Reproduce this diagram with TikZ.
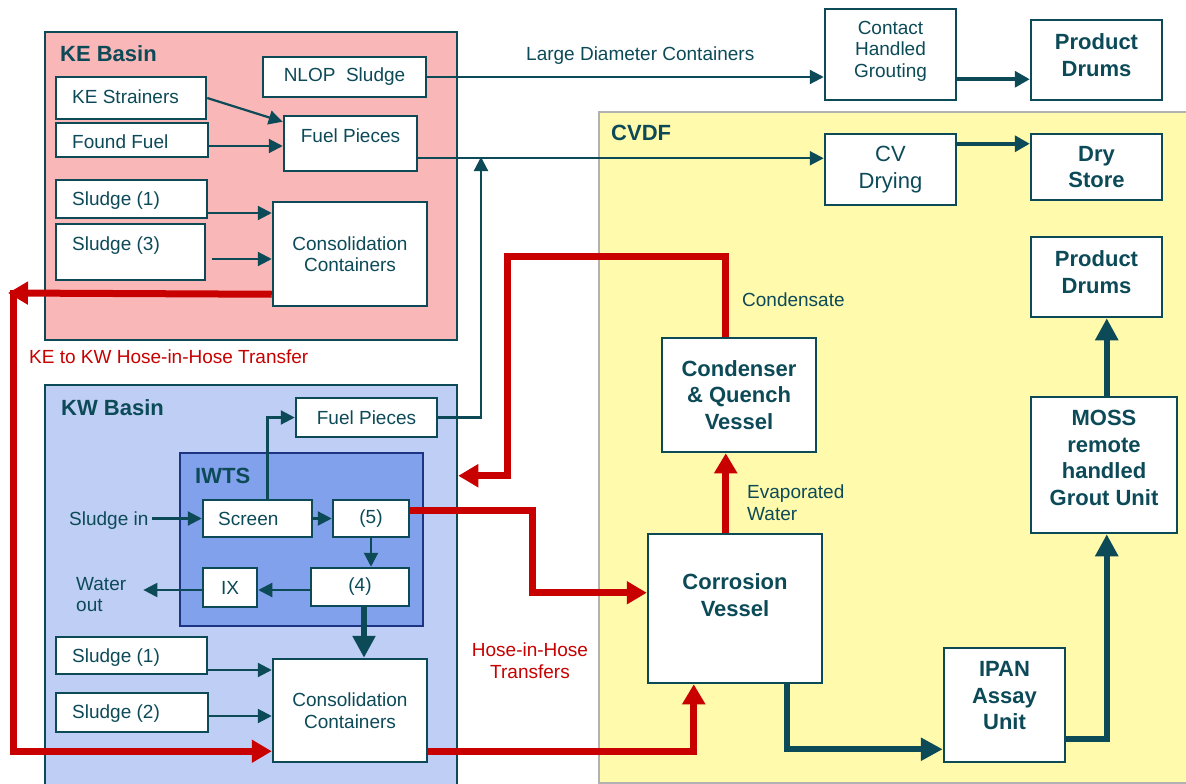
\documentclass[tikz,border=0pt]{standalone}
\usepackage{fontspec}
\setmainfont{Liberation Sans}
\usetikzlibrary{arrows.meta,calc}
\definecolor{teal0}{RGB}{12,74,88}
\definecolor{red0}{RGB}{200,0,0}
\definecolor{pink0}{RGB}{250,183,183}
\definecolor{kwblue}{RGB}{190,206,245}
\definecolor{iwtsblue}{RGB}{130,161,236}
\definecolor{navy0}{RGB}{28,52,130}
\definecolor{yel0}{RGB}{255,250,172}
\definecolor{gray0}{RGB}{178,178,178}
\newcommand{\regf}{\fontsize{19}{21.5}\selectfont}
\newcommand{\bigregf}{\fontsize{22}{27}\selectfont}
\newcommand{\boldf}{\fontsize{22}{26.5}\selectfont\bfseries}
\newcommand{\mybox}[7][]{\node[box,#1,minimum width={#5-#3},minimum height={#6-#4}] (#2) at ({(#3+#5)/2},{(#4+#6)/2}) {#7};}
\begin{document}
\begin{tikzpicture}[x=1pt,y=-1pt,
  box/.style={draw=teal0, line width=2.5pt, fill=white, inner sep=0pt, text=teal0, font=\regf, align=center},
  basin/.style={draw=teal0, line width=2.5pt},
  bbox/.style={font=\boldf},
  txt/.style={inner sep=0pt, text=teal0, font=\regf, align=left},
  ctxt/.style={inner sep=0pt, text=teal0, font=\regf, align=center},
  btxt/.style={inner sep=0pt, text=teal0, font=\boldf, align=center},
  rtxt/.style={inner sep=0pt, text=red0, font=\regf, align=center},
  thinar/.style={draw=teal0, line width=2.2pt, -{Triangle[length=14pt,width=14pt]}},
  medar/.style={draw=teal0, line width=3.5pt, -{Triangle[length=15pt,width=16pt]}},
  thkar/.style={draw=teal0, line width=6pt, -{Triangle[length=22pt,width=22pt]}},
  redar/.style={draw=red0, line width=7pt, -{Triangle[length=20pt,width=22pt]}}]
\useasboundingbox (0,0) rectangle (1186,784);
\fill[white] (0,0) rectangle (1186,784);

% containers
\mybox[basin, fill=pink0]{ke}{45}{32}{457}{340}{}
\mybox[basin, fill=kwblue]{kw}{45}{385}{457}{792}{}
\mybox[basin, fill=iwtsblue, draw=navy0]{iwts}{180}{453}{423}{626}{}
\mybox[basin, fill=yel0, draw=gray0, line width=2pt]{cvdf}{599}{112}{1194}{783}{}

\node[btxt, anchor=base west] (keL) at (60,62) {KE Basin};
\node[btxt, anchor=base west] (kwL) at (61,415) {KW Basin};
\node[btxt, anchor=base west] (iwtsL) at (195,483) {IWTS};
\node[btxt, anchor=base west] (cvdfL) at (611,140) {CVDF};

% KE basin boxes
\mybox{nlop}{263}{57}{426}{97}{NLOP\ \ Sludge}
\mybox{kestr}{56}{77}{206}{119}{}
\mybox{found}{56}{123}{208}{157}{}
\mybox{fpke}{284}{116}{417}{171}{}
\mybox{s1ke}{56}{180}{207}{218}{}
\mybox{s3ke}{56}{224}{205}{280}{}
\mybox{ccke}{273}{202}{427}{306}{Consolidation\\Containers}
\node[txt, anchor=base west] (kestrT) at (72,103) {KE Strainers};
\node[txt, anchor=base west] (foundT) at (72,148) {Found Fuel};
\node[txt, anchor=base] (fpkeT) at (350.5,142) {Fuel Pieces};
\node[txt, anchor=base west] (s1keT) at (72,205) {Sludge (1)};
\node[txt, anchor=base west] (s3keT) at (72,250) {Sludge (3)};

% KW basin boxes
\mybox{fpkw}{296}{398}{437}{437}{Fuel Pieces}
\mybox{screen}{203}{500}{312}{537}{}
\node[txt, anchor=base west] (screenT) at (218,525) {Screen};
\mybox{five}{333}{500}{409}{537}{(5)}
\mybox{ix}{203}{568}{257}{607}{IX}
\mybox{four}{311}{568}{409}{606}{(4)}
\mybox{s1kw}{56}{637}{207}{674}{}
\mybox{s2kw}{56}{693}{208}{732}{}
\node[txt, anchor=base west] (s1kwT) at (72,662) {Sludge (1)};
\node[txt, anchor=base west] (s2kwT) at (72,718) {Sludge (2)};
\mybox{cckw}{273}{659}{427}{762}{Consolidation\\Containers}
\node[txt, anchor=base west] (sin) at (69,525) {Sludge in};
\node[txt, anchor=north west] (wout) at (76,577) {Water\\out};

% right side boxes
\mybox{chg}{825}{9}{956}{100}{}
\node[ctxt] (chgT) at (890.5,51) {Contact\\Handled\\Grouting};
\mybox{pd1}{1031}{20}{1162}{100}{}
\node[btxt] (pd1T) at (1096.5,55) {Product\\Drums};
\mybox[font=\bigregf]{cvd}{825}{134}{956}{205}{CV\\Drying}
\mybox[bbox]{ds}{1031}{134}{1162}{200}{Dry\\Store}
\mybox{pd2}{1031}{237}{1162}{317}{}
\node[btxt] (pd2T) at (1096.5,272) {Product\\Drums};
\mybox[bbox]{cq}{662}{338}{816}{452}{Condenser\\\&\ Quench\\Vessel}
\mybox{moss}{1031}{397}{1177}{533}{}
\node[btxt] (mossT) at (1104,458) {MOSS\\remote\\handled\\Grout Unit};
\mybox{cv}{648}{534}{822}{683}{}
\node[btxt] (cvT) at (735,595) {Corrosion\\Vessel};
\mybox{ipan}{944}{648}{1065}{762}{}
\node[btxt] (ipanT) at (1004.5,696) {IPAN\\Assay\\Unit};

% labels
\node[txt, anchor=base west] (ldc) at (526,60) {Large Diameter Containers};
\node[txt, anchor=base west] (cond) at (742,306) {Condensate};
\node[txt, anchor=north west] (evap) at (747,485) {Evaporated\\Water};
\node[rtxt, anchor=base west] (ke2kw) at (29,363) {KE to KW Hose-in-Hose Transfer};
\node[rtxt, anchor=north] (hih) at (530,643) {Hose-in-Hose\\Transfers};

% coordinates
\coordinate (ff) at ($(found.east)+(0,6)$);
\coordinate (fpo) at ($(fpke.south east)+(0,-14)$);
\coordinate (jn) at (481,157);
\coordinate (s1o) at ($(s1ke.east)+(0,14)$);
\coordinate (s3o) at ($(s3ke.east)+(6,7)$);
\coordinate (kel) at (8,293);
\coordinate (keo) at ($(ccke.south west)+(0,-13)$);
\coordinate (kwin) at ($(cckw.south west)+(0,-12)$);
\coordinate (f4) at ($(four.south)+(4,0)$);
\coordinate (w1o) at ($(s1kw.east)+(0,14.5)$);
\coordinate (w2o) at ($(s2kw.east)+(0,3.5)$);
\coordinate (fv) at ($(five.east)+(0,-8.5)$);
\coordinate (cvin) at ($(cv.north west)+(0,60)$);
\coordinate (kwout) at ($(cckw.south east)+(0,-12)$);
\coordinate (cvb) at ($(cv.south west)+(47,0)$);
\coordinate (cvt) at ($(cv.north west)+(79,0)$);
\coordinate (cqt) at (cvt |- cq.north);
\coordinate (kwr) at ($(kw.north east)+(0,92)$);
\coordinate (cvo) at ($(cv.south west)+(140,0)$);
\coordinate (ipl) at ($(ipan.south west)+(0,-14)$);
\coordinate (ipr) at ($(ipan.south east)+(0,-24)$);
\coordinate (msb) at ($(moss.south west)+(77,0)$);
\coordinate (mst) at ($(moss.north west)+(77,0)$);
\coordinate (c1) at ($(chg.south east)+(0,-22)$);
\coordinate (c2) at ($(cvd.north east)+(0,11)$);
\coordinate (ixo) at ($(four.west)+(0,3)$);
\coordinate (sino) at ($(sin.east |- screen.west)+(3,0)$);

% thin connectors
\draw[thinar] (nlop.east) -- (nlop.east -| chg.west);
\draw[thinar] (kestr.east) -- ($(fpke.north west)+(0,7)$);
\draw[thinar] (ff) -- (ff -| fpke.west);
\draw[thinar] (fpo) -- (fpo -| cvd.west);
\draw[thinar] (fpkw.east) -| (jn);
\draw[thinar] (s1o) -- (s1o -| ccke.west);
\draw[thinar] (s3o) -- (s3o -| ccke.west);
\draw[thinar] (sino) -- (screen.west);
\draw[thinar] (screen.east) -- (five.west);
\draw[thinar] ($(screen.north)+(10,0)$) |- (fpkw.west);
\draw[thinar] (five.south) -- (five.south |- four.north);
\draw[thinar] (ixo) -- (ixo -| ix.east);
\draw[thinar] (ixo -| ix.west) -- ($(ixo -| wout.east)+(17,0)$);
\draw[thinar] (w1o) -- (w1o -| cckw.west);
\draw[thinar] (w2o) -- (w2o -| cckw.west);

% medium / thick connectors
\draw[medar] (c1) -- (c1 -| pd1.west);
\draw[medar] (c2) -- (c2 -| ds.west);
\draw[thkar] (f4) -- (f4 |- cckw.north);
\draw[thkar] (cvo) |- (ipl);
\draw[thkar] (ipr) -| (msb);
\draw[thkar] (mst) -- (mst |- pd2.south);

% red hose transfers
\draw[redar] (keo) -- (kel);
\draw[redar] ($(kel)+(5,-3.5)$) |- (kwin);
\draw[redar] (fv) -- ++(122,0) |- (cvin);
\draw[redar] (kwout) -| (cvb);
\draw[redar] (cvt) -- (cvt |- cq.south);
\draw[redar] (cqt) -- ++(0,-80) -- ++(-218,0) |- (kwr);
\end{tikzpicture}
\end{document}
